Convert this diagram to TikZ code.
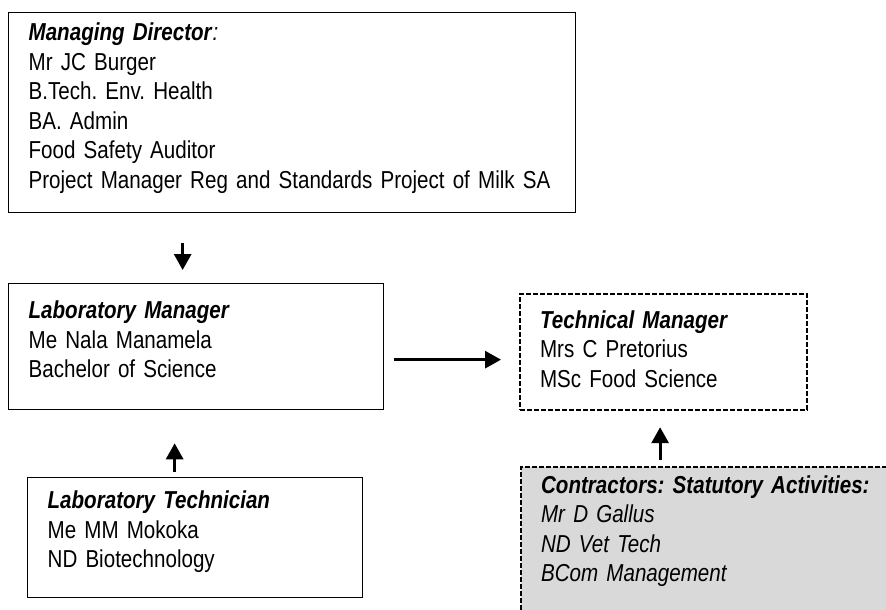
\documentclass[tikz,border=0pt]{standalone}
\usepackage{fontspec}
\setmainfont{Liberation Sans}[FakeStretch=0.84]
\usetikzlibrary{positioning,calc,arrows.meta}
\definecolor{boxgray}{HTML}{D9D9D9}
\frenchspacing

\begin{document}
\begin{tikzpicture}[x=1pt,y=-1pt,
    box/.style={draw,line width=1.3pt,rectangle,anchor=north west,align=left,
      inner xsep=20pt,inner ysep=0pt,font=\fontsize{24.5}{29.5}\selectfont},
    dbox/.style={box,line width=2.2pt,dash pattern=on 5pt off 2pt},
    arr/.style={line width=3pt,-{Triangle[width=17pt,length=16pt]}}]
    \useasboundingbox (0,0) rectangle (886,610);
    \clip (0,0) rectangle (886,610);
    \node[box,text width=527pt,text height=28pt,text depth=172pt] (md) at (8,12)
        {\textbf{\textit{Managing Director}}\textit{:}\\Mr JC Burger\\B.Tech. Env. Health\\BA. Admin\\Food Safety Auditor\\\mbox{Project Manager Reg and Standards Project of Milk SA}};
    \node[box,text width=335pt,text height=35pt,text depth=91pt] (lm) at (8,283)
        {\textbf{\textit{Laboratory Manager}}\\Me Nala Manamela\\Bachelor of Science};
    \node[dbox,text width=247pt,text height=34pt,text depth=82pt] (tm) at (519,293)
        {\textbf{\textit{Technical Manager}}\\Mrs C Pretorius\\MSc Food Science};
    \node[box,text width=295pt,text height=31pt,text depth=89pt] (lt) at (27,477)
        {\textbf{\textit{Laboratory Technician}}\\Me MM Mokoka\\ND Biotechnology};
    \node[dbox,fill=boxgray,text width=380pt,text height=26pt,text depth=200pt] (co) at (520,466)
        {\itshape\textbf{Contractors: Statutory Activities:}\\Mr D Gallus\\ND Vet Tech\\BCom Management};

    \draw[arr,shorten <=30pt,shorten >=13pt] ([xshift=-13.5pt]lm.north |- md.south) -- ([xshift=-13.5pt]lm.north);
    \draw[arr,shorten <=10pt,shorten >=18pt] ([yshift=-13pt]lm.east) -- ([yshift=-13pt]lm.east -| tm.west);
    \draw[arr,shorten <=5pt,shorten >=33pt] ([xshift=-20.5pt]lt.north) -- ([xshift=-20.5pt]lt.north |- lm.south);
    \draw[arr,shorten <=6pt,shorten >=16pt] ([xshift=-3.5pt]co.north -| tm.south) -- ([xshift=-3.5pt]tm.south);
\end{tikzpicture}
\end{document}
